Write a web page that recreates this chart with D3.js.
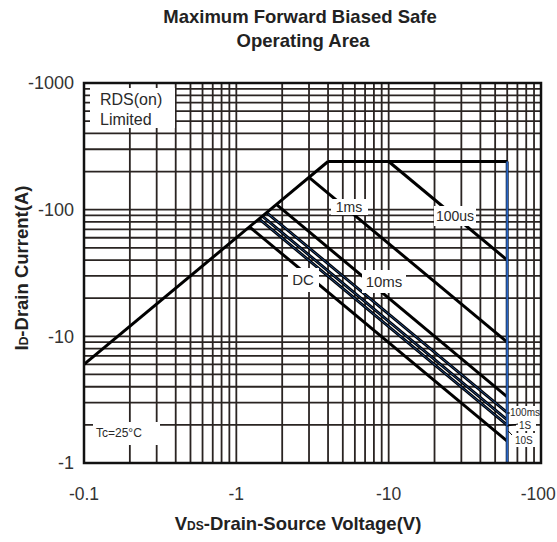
<!DOCTYPE html>
<html>
<head>
<meta charset="utf-8">
<script src="https://cdn.jsdelivr.net/npm/d3@7"></script>
<style>
  body { margin: 0; background: #fff; }
  svg { display: block; font-family: "Liberation Sans", Arial, Helvetica, sans-serif; }
</style>
</head>
<body>
<svg id="chart" width="557" height="542"></svg>
<script>
// Axis ticks (magnitudes; P-channel device, so the labels carry a minus sign)
const vdsTicks = [0.1, 1, 10, 100];
const idTicks = [1, 10, 100, 1000];

// Boundary of the safe operating area
const rdsV = [0.1, 4];     const rdsI = [6, 240];     // RDS(on) limit
const flatV = [4, 60];     const flatI = [240, 240];  // current limit
const bvV = [60, 60];      const bvI = [240, 1];      // breakdown voltage limit

// Pulse-width limit lines (start on the RDS(on) line, end at VDS max)
const pulseNames = ["100us", "1ms", "10ms", "100ms", "1S", "10S", "DC"];
const pulseV = [[10, 60], [3, 60], [1.83, 60], [1.58, 60], [1.48, 60], [1.41, 60], [1.22, 60]];
const pulseI = [[240, 40], [180, 9], [110, 3.33], [94.8, 2.5], [88.8, 2.19], [84.6, 1.99], [73.2, 1.49]];

const svg = d3.select("#chart");
const W = 557;
const plotL = 84, plotR = 541, plotT = 83, plotB = 463;

const x = d3.scaleLog().domain([0.1, 100]).range([plotL, plotR]);
const y = d3.scaleLog().domain([1, 1000]).range([plotB, plotT]);

const gridColor = "#2a2422";

// Grid: every 1..9 multiple inside each decade
const vGrid = [], iGrid = [];
for (let d = 0.1; d < 100; d *= 10) for (let k = 1; k < 10; k++) vGrid.push(+(d * k).toPrecision(3));
for (let d = 1; d < 1000; d *= 10) for (let k = 1; k < 10; k++) iGrid.push(+(d * k).toPrecision(3));

const grid = svg.append("g");
grid.selectAll("line.v").data(vGrid.filter(v => v > 0.1)).join("line")
  .attr("x1", d => x(d)).attr("x2", d => x(d))
  .attr("y1", plotT).attr("y2", plotB)
  .attr("stroke", gridColor).attr("stroke-width", 1.8);
grid.selectAll("line.h").data(iGrid.filter(v => v > 1)).join("line")
  .attr("y1", d => y(d)).attr("y2", d => y(d))
  .attr("x1", plotL).attr("x2", plotR)
  .attr("stroke", gridColor).attr("stroke-width", 1.8);

// Limit curves
const line = d3.line().x(d => x(d[0])).y(d => y(d[1]));
const zipPts = (vs, is) => vs.map((v, i) => [v, is[i]]);

const curves = svg.append("g").attr("fill", "none").attr("stroke-linecap", "butt");
pulseNames.forEach((name, i) => {
  curves.append("path").attr("d", line(zipPts(pulseV[i], pulseI[i])))
    .attr("stroke", "#000").attr("stroke-width", 3);
});
// faint blue cores in the tight 100ms / 1S / 10S bundle
[3, 4, 5].forEach(i => {
  curves.append("path").attr("d", line(zipPts(pulseV[i], pulseI[i])))
    .attr("stroke", "#2f6cc4").attr("stroke-width", 0.7);
});
curves.append("path").attr("d", line(zipPts(rdsV, rdsI))).attr("stroke", "#000").attr("stroke-width", 3);
curves.append("path").attr("d", line(zipPts(flatV, flatI))).attr("stroke", "#000").attr("stroke-width", 3);
curves.append("path").attr("d", line(zipPts(bvV, bvI))).attr("stroke", "#10243f").attr("stroke-width", 3);
curves.append("path").attr("d", line(zipPts(bvV, bvI))).attr("stroke", "#2a66c6").attr("stroke-width", 1.6);

// Labelled boxes that knock out the grid behind them
function box(x0, y0, w, h) {
  svg.append("rect").attr("x", x0).attr("y", y0).attr("width", w).attr("height", h).attr("fill", "#fff");
}
function label(txt, cx, cy, size, anchor) {
  svg.append("text").attr("x", cx).attr("y", cy).attr("dy", "0.35em")
    .attr("text-anchor", anchor || "middle").attr("font-size", size).attr("fill", "#2a2a2a").text(txt);
}

box(90, 88, 85, 40);
label("RDS(on)", 100, 99, 16, "start");
label("Limited", 100, 119, 16, "start");

box(93, 422, 67, 23);
label("Tc=25°C", 96, 433, 12, "start");

box(331, 199, 37, 16);  label("1ms", 349, 207, 14);
box(434, 206, 42, 20);  label("100us", 455, 216, 14);
box(288, 268, 31, 24);  label("DC", 303, 280, 15);
box(362, 270, 44, 23);  label("10ms", 384, 282, 15);

box(509, 406, 31, 13);  label("100ms", 510, 412.5, 10, "start");
box(516, 419, 20, 12);  label("1S", 519, 425, 10, "start");
box(513, 433, 23, 14);  label("10S", 515, 440, 10, "start");

// leader ticks for the right-hand labels
const leaders = svg.append("g").attr("stroke", "#000").attr("stroke-width", 1);
leaders.append("line").attr("x1", x(60)).attr("x2", 510).attr("y1", 413).attr("y2", 413);
leaders.append("line").attr("x1", x(60)).attr("x2", 518).attr("y1", 426).attr("y2", 424);
leaders.append("line").attr("x1", x(60) + 1).attr("x2", 512).attr("y1", 431).attr("y2", 435);

// Frame
svg.append("rect").attr("x", plotL).attr("y", plotT).attr("width", plotR - plotL).attr("height", plotB - plotT)
  .attr("fill", "none").attr("stroke", "#111").attr("stroke-width", 2.5);

// Tick labels
const neg = d => "-" + d3.format("~g")(d);
svg.append("g").selectAll("text").data(idTicks).join("text")
  .attr("x", 74).attr("y", d => y(d)).attr("dy", "0.35em").attr("text-anchor", "end")
  .attr("font-size", 18).attr("fill", "#333").text(neg);
svg.append("g").selectAll("text").data(vdsTicks).join("text")
  .attr("x", d => x(d)).attr("y", 494).attr("dy", "0.35em").attr("text-anchor", "middle")
  .attr("font-size", 17.5).attr("fill", "#333").text(neg)
  .each(function () {
    // keep the last label inside the canvas
    const b = this.getBBox();
    if (b.x + b.width > W - 1) d3.select(this).attr("x", +d3.select(this).attr("x") - (b.x + b.width - (W - 1)));
  });

// Titles
const title = svg.append("text").attr("font-size", 18.5).attr("font-weight", "bold")
  .attr("text-anchor", "middle").attr("fill", "#222");
title.append("tspan").attr("x", 300).attr("y", 23).text("Maximum Forward Biased Safe");
title.append("tspan").attr("x", 303).attr("y", 47).text("Operating Area");

const xt = svg.append("text").attr("x", 298).attr("y", 530).attr("text-anchor", "middle")
  .attr("font-size", 18.5).attr("font-weight", "bold").attr("fill", "#222");
xt.append("tspan").text("V");
xt.append("tspan").attr("font-size", 12).text("DS");
xt.append("tspan").text("-Drain-Source Voltage(V)");

const yt = svg.append("text").attr("transform", "translate(28,268) rotate(-90)").attr("text-anchor", "middle")
  .attr("font-size", 18.5).attr("font-weight", "bold").attr("fill", "#222");
yt.append("tspan").text("I");
yt.append("tspan").attr("font-size", 12).text("D");
yt.append("tspan").text("-Drain Current(A)");
</script>
</body>
</html>
